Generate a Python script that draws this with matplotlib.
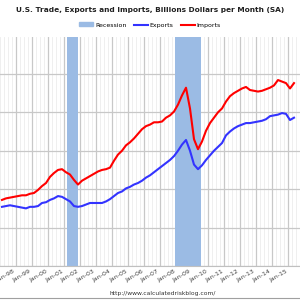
import matplotlib
matplotlib.use("Agg")
import matplotlib.pyplot as plt
import numpy as np
from matplotlib.lines import Line2D
from matplotlib.patches import Patch

# quarterly values, 1997Q1 .. 2015Q2 (billions $ per month, SA)
start_year = 1997
exports = [77, 78, 79, 78,
           77, 76, 75, 77,
           77, 78, 82, 83,
           86, 88, 91, 90,
           87, 84, 78, 77,
           78, 80, 82, 82,
           82, 82, 84, 87,
           91, 95, 97, 101,
           103, 106, 108, 111,
           115, 118, 122, 126,
           130, 134, 138, 143,
           150, 158, 164, 150,
           132, 126, 131, 138,
           144, 150, 155, 160,
           170, 175, 179, 182,
           184, 186, 186, 187,
           188, 189, 191, 195,
           196, 197, 199, 198,
           190, 193]
imports = [86, 88, 89, 90,
           91, 92, 92, 94,
           95, 99, 104, 108,
           116, 121, 125, 126,
           122, 119, 112, 106,
           111, 114, 117, 120,
           123, 125, 126, 128,
           137, 145, 150, 157,
           161, 166, 172, 178,
           182, 184, 187, 187,
           188, 193, 196, 201,
           210, 222, 232, 205,
           165, 152, 162, 176,
           186, 193, 200, 205,
           214, 221, 225, 228,
           231, 233, 229, 228,
           227, 228, 230, 232,
           235, 242, 240, 238,
           231, 238]
recessions = [(2001.17, 2001.88), (2007.92, 2009.55)]
years = list(range(1998, 2016))
tick_labels = ["Jan-%02d" % (y % 100) for y in years]

t = start_year + np.arange(len(exports)) / 4 + 0.125

fig = plt.figure(figsize=(3, 3), dpi=100)
ax = fig.add_axes([0, 1 - 266 / 300, 1, 229 / 300])

for a, b in recessions:
    ax.axvspan(a, b, color='#9bbbe4', lw=0, zorder=1)

ax.plot(t, exports, color='#3333ff', lw=1.5, zorder=3)
ax.plot(t, imports, color='#ff0000', lw=1.5, zorder=3)

ax.set_xlim(1997.16, 2015.45)
ax.set_ylim(0, 298)
ax.set_xticks(years)
ax.set_xticklabels(tick_labels, rotation=30, ha='right', fontsize=4.5, color='#404040')
ax.set_xticks(np.arange(1997, 2016, 0.25), minor=True)
ax.set_yticks(np.arange(0, 300, 50))
ax.tick_params(axis='y', left=False, labelleft=False)
ax.tick_params(axis='x', length=0, which='both', pad=2)
ax.grid(axis='x', which='major', color='#c8c8c8', lw=0.9, zorder=0)
ax.grid(axis='x', which='minor', color='#ececec', lw=0.6, zorder=0)
ax.grid(axis='y', which='major', color='#c8c8c8', lw=0.9, zorder=0)
ax.set_axisbelow(True)
for s in ['top', 'left', 'right']:
    ax.spines[s].set_visible(False)
ax.spines['bottom'].set_color('#c0c0c0')

fig.text(0.5, 1 - 10 / 300, "U.S. Trade, Exports and Imports, Billions Dollars per Month (SA)",
         ha='center', va='center', fontsize=5.3, fontweight='bold', color='#202020')

handles = [Patch(color='#9bbbe4', label='Recession'),
           Line2D([], [], color='#3333ff', lw=1.5, label='Exports'),
           Line2D([], [], color='#ff0000', lw=1.5, label='Imports')]
fig.legend(handles=handles, loc='center', bbox_to_anchor=(0.5, 1 - 25 / 300), ncol=3,
           frameon=False, fontsize=4.5, handlelength=2.2, handleheight=0.6,
           columnspacing=1.2, handletextpad=0.3)

fig.text(0.543, 1 - 293 / 300, "http://www.calculatedriskblog.com/", ha='center', va='center',
         fontsize=4.3, color='#303030')
fig.add_artist(Line2D([0, 1], [1 - 298 / 300] * 2, color='#a0a0a0', lw=0.8))

fig.savefig("out.png", dpi=100)
